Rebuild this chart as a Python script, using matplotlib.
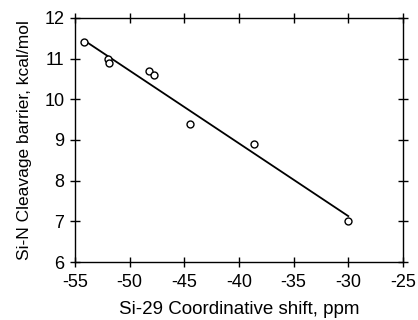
import matplotlib
matplotlib.use('Agg')
import matplotlib.pyplot as plt

# valeurs
shift_ppm = [-54.2, -52.0, -51.85, -48.2, -47.8, -44.5, -38.6, -30.0]
barrier = [11.4, 11.0, 10.9, 10.7, 10.6, 9.4, 8.9, 7.0]

# droite de regression (extremites lues)
fit_x = [-54.1, -30.0]
fit_y = [11.44, 7.13]

xticks = [-55, -50, -45, -40, -35, -30, -25]
yticks = [6, 7, 8, 9, 10, 11, 12]

plt.rcParams['font.family'] = ['Liberation Sans', 'DejaVu Sans']

fig = plt.figure(figsize=(4.18, 3.2), dpi=100)
ax = fig.add_axes([0.179, 0.181, 0.785, 0.763])

ax.plot(fit_x, fit_y, color='black', linewidth=1.3)
ax.plot(shift_ppm, barrier, linestyle='none', marker='o', markersize=5,
        markerfacecolor='white', markeredgecolor='black', markeredgewidth=1.0)

ax.set_xlim(-55, -25)
ax.set_ylim(6, 12)
ax.set_xticks(xticks)
ax.set_yticks(yticks)
ax.set_xticklabels([str(t) for t in xticks])
ax.set_yticklabels([str(t) for t in yticks])

ax.tick_params(direction='inout', length=7, width=1.0, top=True, right=True,
               labelsize=13)
ax.tick_params(axis='x', pad=5)
ax.tick_params(axis='y', pad=4)
for s in ax.spines.values():
    s.set_linewidth(1.0)

ax.set_xlabel('Si-29 Coordinative shift, ppm', fontsize=13.5, labelpad=7)
ax.set_ylabel('Si-N Cleavage barrier, kcal/mol', fontsize=12.5, labelpad=9)

fig.savefig('out.png', dpi=100)
plt.close(fig)
